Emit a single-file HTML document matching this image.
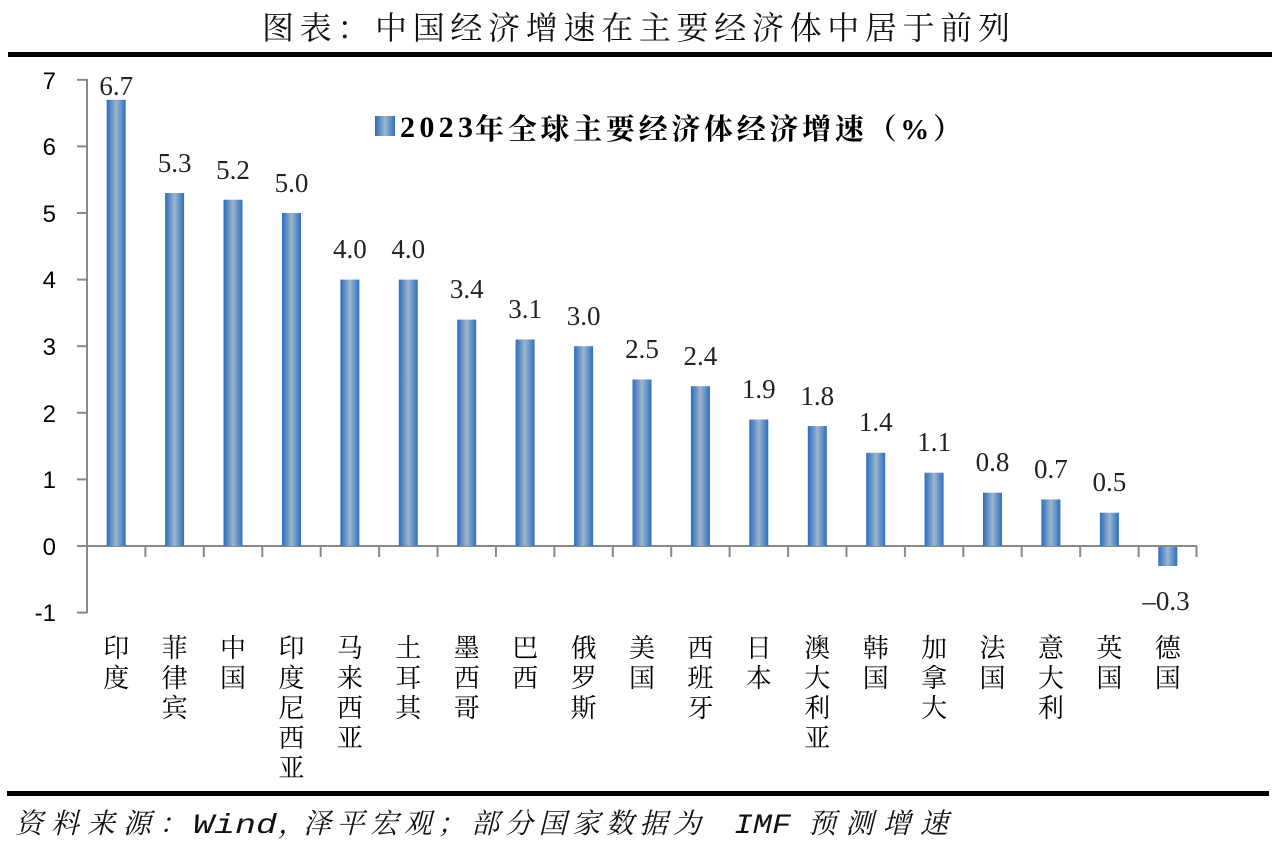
<!DOCTYPE html>
<html>
<head>
<meta charset="utf-8">
<style>
  html,body{margin:0;padding:0;background:#fff;}
  svg{display:block;}
</style>
</head>
<body>
<svg width="1280" height="849" viewBox="0 0 1280 849" xmlns="http://www.w3.org/2000/svg">
  <defs>
    <linearGradient id="bg" x1="0" y1="0" x2="1" y2="0">
      <stop offset="0" stop-color="#2a6cc0"/>
      <stop offset="0.5" stop-color="#9db6cb"/>
      <stop offset="1" stop-color="#2d6fc2"/>
    </linearGradient>
  </defs>
  <rect width="1280" height="849" fill="#fff"/>

  <!-- Title -->
  <text x="262" y="39" font-family="'Noto Serif CJK SC','Liberation Serif',serif" font-size="32" fill="#111" textLength="748" lengthAdjust="spacing">图表：中国经济增速在主要经济体中居于前列</text>
  <rect x="8" y="52" width="1264" height="5" fill="#000"/>

  <!-- Axes -->
  <g stroke="#898989" stroke-width="2" fill="none">
    <line x1="87" y1="79" x2="87" y2="613"/>
    <line x1="77" y1="79.8" x2="87" y2="79.8"/>
    <line x1="77" y1="146.4" x2="87" y2="146.4"/>
    <line x1="77" y1="213" x2="87" y2="213"/>
    <line x1="77" y1="279.6" x2="87" y2="279.6"/>
    <line x1="77" y1="346.2" x2="87" y2="346.2"/>
    <line x1="77" y1="412.8" x2="87" y2="412.8"/>
    <line x1="77" y1="479.4" x2="87" y2="479.4"/>
    <line x1="77" y1="546" x2="87" y2="546"/>
    <line x1="77" y1="612.6" x2="87" y2="612.6"/>
    <line x1="87" y1="546" x2="1197" y2="546"/>
    <line x1="145.4" y1="546" x2="145.4" y2="557"/>
    <line x1="203.8" y1="546" x2="203.8" y2="557"/>
    <line x1="262.3" y1="546" x2="262.3" y2="557"/>
    <line x1="320.7" y1="546" x2="320.7" y2="557"/>
    <line x1="379.1" y1="546" x2="379.1" y2="557"/>
    <line x1="437.5" y1="546" x2="437.5" y2="557"/>
    <line x1="495.9" y1="546" x2="495.9" y2="557"/>
    <line x1="554.4" y1="546" x2="554.4" y2="557"/>
    <line x1="612.8" y1="546" x2="612.8" y2="557"/>
    <line x1="671.2" y1="546" x2="671.2" y2="557"/>
    <line x1="729.6" y1="546" x2="729.6" y2="557"/>
    <line x1="788.1" y1="546" x2="788.1" y2="557"/>
    <line x1="846.5" y1="546" x2="846.5" y2="557"/>
    <line x1="904.9" y1="546" x2="904.9" y2="557"/>
    <line x1="963.3" y1="546" x2="963.3" y2="557"/>
    <line x1="1021.7" y1="546" x2="1021.7" y2="557"/>
    <line x1="1080.2" y1="546" x2="1080.2" y2="557"/>
    <line x1="1138.6" y1="546" x2="1138.6" y2="557"/>
    <line x1="1196.5" y1="546" x2="1196.5" y2="557"/>
  </g>

  <!-- Y tick labels -->
  <g font-family="'Liberation Sans',sans-serif" font-size="24" fill="#000" text-anchor="end">
    <text x="56" y="89">7</text>
    <text x="56" y="155">6</text>
    <text x="56" y="222">5</text>
    <text x="56" y="288">4</text>
    <text x="56" y="355">3</text>
    <text x="56" y="422">2</text>
    <text x="56" y="488">1</text>
    <text x="56" y="555">0</text>
    <text x="56" y="621">-1</text>
  </g>

  <!-- Bars -->
  <g fill="url(#bg)">
    <rect x="106.7" y="99.8" width="19" height="446.2"/>
    <rect x="165.1" y="193.0" width="19" height="353.0"/>
    <rect x="223.5" y="199.7" width="19" height="346.3"/>
    <rect x="282.0" y="213.0" width="19" height="333.0"/>
    <rect x="340.4" y="279.6" width="19" height="266.4"/>
    <rect x="398.8" y="279.6" width="19" height="266.4"/>
    <rect x="457.2" y="319.6" width="19" height="226.4"/>
    <rect x="515.6" y="339.5" width="19" height="206.5"/>
    <rect x="574.1" y="346.2" width="19" height="199.8"/>
    <rect x="632.5" y="379.5" width="19" height="166.5"/>
    <rect x="690.9" y="386.2" width="19" height="159.8"/>
    <rect x="749.3" y="419.5" width="19" height="126.5"/>
    <rect x="807.8" y="426.1" width="19" height="119.9"/>
    <rect x="866.2" y="452.8" width="19" height="93.2"/>
    <rect x="924.6" y="472.7" width="19" height="73.3"/>
    <rect x="983.0" y="492.7" width="19" height="53.3"/>
    <rect x="1041.4" y="499.4" width="19" height="46.6"/>
    <rect x="1099.9" y="512.7" width="19" height="33.3"/>
    <rect x="1158.3" y="547" width="19" height="19.0"/>
  </g>

  <!-- Value labels -->
  <g font-family="'Liberation Serif',serif" font-size="27" fill="#222" text-anchor="middle">
    <text x="116.2" y="95">6.7</text>
    <text x="174.6" y="172">5.3</text>
    <text x="233.0" y="179">5.2</text>
    <text x="291.5" y="192">5.0</text>
    <text x="349.9" y="258">4.0</text>
    <text x="408.3" y="258">4.0</text>
    <text x="466.7" y="298">3.4</text>
    <text x="525.1" y="318">3.1</text>
    <text x="583.6" y="325">3.0</text>
    <text x="642.0" y="358">2.5</text>
    <text x="700.4" y="365">2.4</text>
    <text x="758.8" y="398">1.9</text>
    <text x="817.3" y="405">1.8</text>
    <text x="875.7" y="431">1.4</text>
    <text x="934.1" y="451">1.1</text>
    <text x="992.5" y="471">0.8</text>
    <text x="1050.9" y="478">0.7</text>
    <text x="1109.4" y="491">0.5</text>
    <text x="1166" y="610">–0.3</text>
  </g>

  <!-- Category labels (vertical) -->
  <g font-family="'Liberation Serif','Noto Serif CJK SC',serif" font-size="26" fill="#000" text-anchor="middle">
    <text x="116.2" y="657">印</text><text x="116.2" y="687">度</text>
    <text x="174.6" y="657">菲</text><text x="174.6" y="687">律</text><text x="174.6" y="717">宾</text>
    <text x="233.0" y="657">中</text><text x="233.0" y="687">国</text>
    <text x="291.5" y="657">印</text><text x="291.5" y="687">度</text><text x="291.5" y="717">尼</text><text x="291.5" y="747">西</text><text x="291.5" y="777">亚</text>
    <text x="349.9" y="657">马</text><text x="349.9" y="687">来</text><text x="349.9" y="717">西</text><text x="349.9" y="747">亚</text>
    <text x="408.3" y="657">土</text><text x="408.3" y="687">耳</text><text x="408.3" y="717">其</text>
    <text x="466.7" y="657">墨</text><text x="466.7" y="687">西</text><text x="466.7" y="717">哥</text>
    <text x="525.1" y="657">巴</text><text x="525.1" y="687">西</text>
    <text x="583.6" y="657">俄</text><text x="583.6" y="687">罗</text><text x="583.6" y="717">斯</text>
    <text x="642.0" y="657">美</text><text x="642.0" y="687">国</text>
    <text x="700.4" y="657">西</text><text x="700.4" y="687">班</text><text x="700.4" y="717">牙</text>
    <text x="758.8" y="657">日</text><text x="758.8" y="687">本</text>
    <text x="817.3" y="657">澳</text><text x="817.3" y="687">大</text><text x="817.3" y="717">利</text><text x="817.3" y="747">亚</text>
    <text x="875.7" y="657">韩</text><text x="875.7" y="687">国</text>
    <text x="934.1" y="657">加</text><text x="934.1" y="687">拿</text><text x="934.1" y="717">大</text>
    <text x="992.5" y="657">法</text><text x="992.5" y="687">国</text>
    <text x="1050.9" y="657">意</text><text x="1050.9" y="687">大</text><text x="1050.9" y="717">利</text>
    <text x="1109.4" y="657">英</text><text x="1109.4" y="687">国</text>
    <text x="1167.8" y="657">德</text><text x="1167.8" y="687">国</text>
  </g>

  <!-- Legend -->
  <rect x="375" y="116" width="20" height="20" fill="url(#bg)"/>
  <text x="400" y="137" font-family="'Liberation Serif',serif" font-weight="bold" font-size="30" fill="#000" textLength="73" lengthAdjust="spacing">2023</text>
  <text x="475" y="139" font-family="'Liberation Serif','Noto Serif CJK SC',serif" font-weight="bold" font-size="29" fill="#000" textLength="487" lengthAdjust="spacing">年全球主要经济体经济增速（%）</text>

  <!-- Bottom rule -->
  <rect x="7" y="791" width="1262" height="5" fill="#000"/>

  <!-- Footer -->
  <g font-family="'Liberation Serif','Noto Serif CJK SC',serif" font-style="italic" font-size="28" fill="#111">
    <text x="15" y="833" textLength="172" lengthAdjust="spacing">资料来源：</text>
    <text x="193" y="833" font-family="'Liberation Mono',monospace" font-size="28" textLength="84" lengthAdjust="spacingAndGlyphs">Wind</text>
    <text x="278" y="833">，</text>
    <text x="303" y="833" textLength="398" lengthAdjust="spacing">泽平宏观；部分国家数据为</text>
    <text x="734" y="833" font-family="'Liberation Mono',monospace" textLength="57" lengthAdjust="spacingAndGlyphs">IMF</text>
    <text x="808" y="833" textLength="140" lengthAdjust="spacing">预测增速</text>
  </g>
</svg>
</body>
</html>
